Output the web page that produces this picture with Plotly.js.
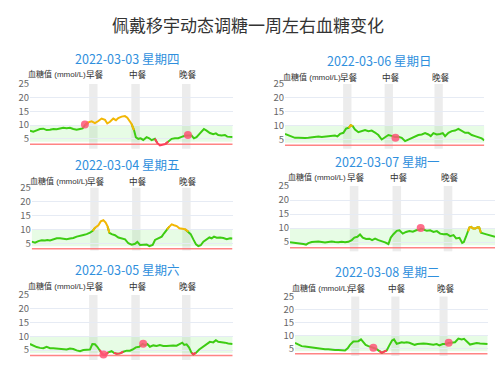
<!DOCTYPE html>
<html><head><meta charset="utf-8">
<script src="https://cdn.plot.ly/plotly-3.0.1.min.js"></script>
<style>html,body{margin:0;padding:0;background:#fff}#chart{width:500px;height:375px}</style>
</head><body><div id="chart"></div>
<script>
// ---------- text ----------
const mainTitle = '佩戴移宇动态调糖一周左右血糖变化';
const dayTitles = ['2022-03-03 星期四','2022-03-04 星期五','2022-03-05 星期六','2022-03-06 星期日','2022-03-07 星期一','2022-03-08 星期二'];
const yName = '血糖值 (mmol/L)';
const mealNames = ['早餐','中餐','晚餐'];
const mealStart = [7, 12, 18];
const mealEnd = [8, 13, 19];
const targetLow = 3.9, targetHigh = 10, hypoLine = 3.0;
const yTicks = [5, 10, 15, 20, 25];

// ---------- data (hour of day, mmol/L) ----------
const t0303 = [0,0.39,0.79,1.18,1.58,1.97,2.37,2.76,3.16,3.55,3.94,4.34,4.73,5.13,5.52,5.92,6.23,6.51,6.9,7.3,7.69,8.09,8.48,8.88,9.15,9.47,9.86,10.18,10.45,10.85,11.24,11.52,11.83,12.03,12.31,12.54,12.82,13.1,13.41,13.81,14.12,14.4,14.79,15.07,15.38,15.7,16.02,16.37,16.77,17.16,17.55,17.95,18.34,18.74,19.13,19.41,19.72,20.12,20.59,20.91,21.3,21.7,22.01,22.29,22.68,23.08,23.35,23.98];
const g0303 = [8.0,7.6,8.1,8.6,8.7,8.2,8.3,8.6,8.5,8.8,9.0,8.9,9.0,8.6,8.3,8.6,8.8,10.0,11.0,11.4,10.7,11.5,12.4,11.9,10.6,11.2,12.4,11.8,12.6,13.1,13.3,12.7,11.0,10.4,8.2,5.5,5.0,5.2,4.6,5.6,5.2,4.5,5.0,3.5,2.6,2.9,3.1,4.0,5.0,5.2,5.2,5.7,6.1,6.2,6.2,5.2,5.6,7.0,8.6,8.0,7.1,6.7,7.0,6.4,6.2,6.4,5.8,5.7];
const m0303t = [6.5, 18.7], m0303v = [10.2, 6.4];

const t0304 = [0,0.4,0.8,1.2,1.59,1.87,2.19,2.59,2.99,3.39,3.78,4.18,4.58,4.98,5.38,5.78,6.18,6.57,6.97,7.29,7.57,7.97,8.25,8.57,8.84,9.08,9.28,9.56,9.96,10.36,10.76,11.16,11.55,11.95,12.35,12.63,12.95,13.35,13.75,14.06,14.46,14.74,15.14,15.54,15.82,16.14,16.45,16.73,17.01,17.33,17.65,18.05,18.33,18.73,19.0,19.32,19.64,19.92,20.2,20.52,20.92,21.24,21.51,21.79,22.11,22.51,22.91,23.31,23.71,24.0];
const g0304 = [5.6,5.2,5.8,6.1,6.0,6.2,6.0,6.5,6.8,6.8,6.7,6.5,6.7,6.9,7.4,7.6,8.0,8.3,8.8,9.5,10.6,11.5,12.9,13.3,12.5,11.0,8.8,8.3,7.9,7.1,6.7,6.4,5.0,4.5,4.8,5.5,4.4,4.6,4.6,4.0,4.4,6.2,6.8,7.4,8.6,10.0,11.0,11.8,11.5,11.2,10.4,10.2,10.1,9.2,8.3,6.4,4.6,4.0,4.3,5.6,6.5,7.1,6.8,7.4,7.0,7.1,6.9,6.5,6.8,6.7];
const m0304t = [], m0304v = [];

const t0305 = [0,0.39,0.79,1.18,1.58,1.97,2.37,2.76,3.16,3.55,3.94,4.34,4.73,5.13,5.52,5.92,6.31,6.71,7.1,7.38,7.69,7.97,8.28,8.56,8.88,9.27,9.66,9.94,10.26,10.65,11.05,11.44,11.83,12.15,12.54,12.94,13.33,13.61,13.89,14.2,14.6,14.99,15.38,15.78,16.17,16.57,16.96,17.36,17.75,18.03,18.26,18.54,18.82,19.13,19.33,19.64,20.04,20.51,20.99,21.3,21.7,22.01,22.29,22.68,23.08,23.47,23.98];
const g0305 = [7.2,6.5,6.1,5.8,5.7,6.2,5.7,5.7,5.6,5.4,5.4,5.2,5.6,5.4,4.9,4.6,5.0,5.0,5.2,7.2,7.1,6.2,5.0,3.5,3.2,4.2,4.6,4.0,3.7,3.8,4.4,4.8,4.8,5.2,6.0,6.2,7.2,6.8,7.2,6.2,6.7,6.5,6.8,6.5,6.5,6.7,6.7,6.6,7.2,7.7,6.9,7.1,6.0,4.0,3.5,4.0,5.2,6.2,7.2,8.0,7.8,8.6,8.0,7.9,7.7,7.4,7.2];
const m0305t = [8.7, 13.4], m0305v = [3.4, 7.3];

const t0306 = [0,0.4,0.8,1.2,1.61,2.01,2.41,2.81,3.21,3.61,4.02,4.42,4.82,5.22,5.62,6.02,6.31,6.63,7.03,7.35,7.67,7.91,8.15,8.43,8.84,9.24,9.64,10.04,10.44,10.84,11.24,11.65,12.05,12.45,12.85,13.25,13.65,14.06,14.46,14.86,15.26,15.66,16.06,16.47,16.87,17.27,17.55,17.87,18.27,18.67,19.0,19.28,19.68,20.08,20.48,20.88,21.29,21.69,22.09,22.49,22.89,23.29,23.69,24.0];
const g0306 = [7.1,6.7,6.1,5.7,5.7,5.6,5.6,5.7,5.8,6.0,6.2,6.0,6.1,6.2,6.4,6.5,6.2,7.1,7.5,9.0,9.3,10.2,9.9,8.7,7.7,8.1,8.5,8.1,8.3,7.6,6.7,5.1,6.0,6.7,6.4,6.0,6.1,5.7,4.5,5.0,5.5,6.2,6.7,6.9,7.4,6.9,6.3,7.4,6.9,7.1,7.4,6.3,7.5,8.1,8.3,8.9,8.1,7.5,7.5,6.7,6.3,6.0,5.5,4.8];
const m0306t = [13.3], m0306v = [5.7];

const t0307 = [0,0.39,0.78,1.17,1.56,1.88,2.15,2.54,2.93,3.32,3.71,4.1,4.49,4.88,5.27,5.66,6.05,6.45,6.84,7.23,7.54,7.89,8.2,8.52,8.91,9.3,9.61,9.96,10.35,10.74,11.13,11.52,11.8,12.11,12.5,12.81,13.2,13.59,13.98,14.38,14.77,15.16,15.35,15.7,16.02,16.41,16.8,17.19,17.58,17.97,18.36,18.75,19.14,19.45,19.84,20.16,20.35,20.6,20.85,21.0,21.2,21.45,21.7,21.95,22.15,22.35,22.7,23.0,23.4,23.7,24.0];
const g0307 = [4.9,4.8,4.6,4.5,4.3,4.1,4.6,5.0,5.1,5.2,5.0,4.8,5.0,5.2,5.0,4.9,5.1,4.9,5.1,5.7,6.6,6.9,7.7,6.6,6.1,6.2,5.7,6.2,5.7,5.4,4.9,4.3,6.6,7.8,9.0,9.2,8.0,8.6,8.9,8.7,9.2,9.4,9.8,9.4,9.0,9.2,8.6,8.9,8.0,7.8,7.9,7.1,7.5,6.3,6.5,4.7,5.0,6.9,8.8,10.2,10.4,9.8,9.8,10.3,10.2,8.3,8.0,7.8,7.3,7.1,6.9];
const m0307t = [15.3], m0307v = [10.0];

const t0308 = [0,0.42,0.83,1.25,1.66,2.08,2.49,2.91,3.32,3.74,4.15,4.57,4.98,5.4,5.81,6.23,6.56,6.85,7.27,7.6,7.89,8.22,8.51,8.8,9.14,9.43,9.76,10.09,10.51,10.8,11.09,11.42,11.75,12.09,12.33,12.67,13.0,13.29,13.58,13.91,14.24,14.58,14.91,15.24,15.57,15.99,16.4,16.82,17.23,17.65,17.98,18.4,18.81,19.14,19.52,19.93,20.35,20.76,21.05,21.39,21.8,22.22,22.63,23.05,23.46,24.0];
const g0308 = [7.1,6.4,5.9,5.8,5.6,5.4,5.3,5.1,4.9,4.7,4.7,4.5,4.4,4.4,4.2,4.2,5.1,6.4,7.7,7.9,7.8,8.5,7.4,6.4,5.9,5.6,5.4,4.9,4.0,3.3,3.8,4.2,6.2,8.1,8.5,6.8,7.1,7.4,7.2,7.4,7.2,6.9,6.4,6.7,6.9,6.9,6.8,6.5,6.4,6.7,6.2,6.7,6.7,7.1,7.2,7.4,8.8,8.5,8.7,7.7,6.5,6.8,7.1,6.9,6.8,6.7];
const m0308t = [9.76, 19.14], m0308v = [5.3, 7.2];

// ---------- panel placement (pixels) ----------
const panels = [
  {title: dayTitles[0], t: t0303, v: g0303, mt: m0303t, mv: m0303v, px: [30, 232.7], py: [84, 148.7], ymin: 1.4, tpos: [127, 58], npos: [27.3, 74.3]},
  {title: dayTitles[1], t: t0304, v: g0304, mt: m0304t, mv: m0304v, px: [31.7, 232.5], py: [187.8, 250.5], ymin: 2.4, tpos: [127, 164], npos: [29.3, 180.7]},
  {title: dayTitles[2], t: t0305, v: g0305, mt: m0305t, mv: m0305v, px: [30, 232.7], py: [295, 360], ymin: 1.4, tpos: [127, 269], npos: [27.3, 285.7]},
  {title: dayTitles[3], t: t0306, v: g0306, mt: m0306t, mv: m0306v, px: [285, 484.3], py: [84, 148.7], ymin: 1.8, tpos: [379, 60], npos: [281.7, 76.7]},
  {title: dayTitles[4], t: t0307, v: g0307, mt: m0307t, mv: m0307v, px: [290, 495], py: [186, 251.3], ymin: 1.7, tpos: [386.5, 161], npos: [286.7, 176.7]},
  {title: dayTitles[5], t: t0308, v: g0308, mt: m0308t, mv: m0308v, px: [295, 487.7], py: [296.5, 356], ymin: 2.1, tpos: [386.7, 271], npos: [290.5, 287.7]}
];

const W = 500, H = 375;
const fx = p => p / W, fy = p => 1 - p / H;
const FONT = '"Noto Sans CJK SC", "Noto Sans", sans-serif';
const NAMEFONT = '"Liberation Sans", "Noto Sans CJK SC", sans-serif';
const COLORS = {g: '#3dcc12', o: '#f2b705', r: '#ff3d5a'};
function cls(v) { return v < targetLow ? 'r' : (v > targetHigh ? 'o' : 'g'); }
function segY(v, c) {
  const n = v.length;
  return v.map((y, i) => {
    const a = cls(y) === c, b = i > 0 && cls(v[i-1]) === c, d = i < n - 1 && cls(v[i+1]) === c;
    return (a || b || d) ? y : null;
  });
}

const traces = [], shapes = [], annotations = [];
const layout = {
  width: W, height: H, margin: {l: 0, r: 0, t: 0, b: 0},
  paper_bgcolor: '#fff', plot_bgcolor: 'rgba(0,0,0,0)', showlegend: false,
  font: {family: FONT, color: '#333'}
};

panels.forEach((p, i) => {
  const k = i + 1, sx = k === 1 ? '' : String(k);
  const xa = 'x' + sx, ya = 'y' + sx;
  layout['xaxis' + sx] = {domain: [fx(p.px[0]), fx(p.px[1])], range: [0, 24], visible: false, anchor: ya, fixedrange: true};
  layout['yaxis' + sx] = {
    domain: [fy(p.py[1]), fy(p.py[0])], range: [p.ymin, 25], anchor: xa,
    tickvals: yTicks, ticks: '', showline: false, zeroline: false,
    gridcolor: '#e6ebf4', gridwidth: 1,
    tickfont: {size: 9.5, color: '#666', family: FONT}, fixedrange: true
  };
  shapes.push({type: 'rect', xref: xa, yref: ya, x0: 0, x1: 24, y0: targetLow, y1: targetHigh,
    fillcolor: 'rgba(110,240,100,0.17)', line: {width: 0}, layer: 'below'});
  mealStart.forEach((s, j) => {
    shapes.push({type: 'rect', xref: xa, yref: ya + ' domain', x0: s, x1: mealEnd[j], y0: 0, y1: 1,
      fillcolor: 'rgba(205,205,205,0.38)', line: {width: 0}, layer: 'below'});
    annotations.push({xref: xa, yref: 'paper', x: (s + mealEnd[j]) / 2, y: fy(p.npos[1]), xshift: 2,
      text: mealNames[j], showarrow: false, xanchor: 'center', yanchor: 'middle', borderpad: 0,
      font: {size: 8.6, color: '#333', family: FONT}});
  });
  shapes.push({type: 'line', xref: xa, yref: ya, x0: 0, x1: 24, y0: hypoLine, y1: hypoLine,
    line: {color: 'rgba(255,110,110,0.85)', width: 1.5}, layer: 'below'});
  ['g', 'o', 'r'].forEach(c => {
    traces.push({type: 'scatter', mode: 'lines', x: p.t, y: segY(p.v, c), xaxis: xa, yaxis: ya,
      connectgaps: false, line: {color: COLORS[c], width: 2}, hoverinfo: 'skip'});
  });
  traces.push({type: 'scatter', mode: 'markers', x: p.mt, y: p.mv, xaxis: xa, yaxis: ya,
    marker: {size: 8, color: 'rgba(255,85,120,0.85)', line: {width: 0}}, hoverinfo: 'skip'});
  annotations.push({xref: 'paper', yref: 'paper', x: fx(p.tpos[0]), y: fy(p.tpos[1]), text: p.title,
    showarrow: false, xanchor: 'center', yanchor: 'middle', font: {size: 12.5, color: '#2f8fdd', family: FONT}});
  annotations.push({xref: 'paper', yref: 'paper', x: fx(p.npos[0]), y: fy(p.npos[1]), text: yName,
    showarrow: false, xanchor: 'left', yanchor: 'middle', borderpad: 0,
    font: {size: 8, color: '#333', family: NAMEFONT}});
});

annotations.push({xref: 'paper', yref: 'paper', x: fx(248), y: fy(25), text: mainTitle,
  showarrow: false, xanchor: 'center', yanchor: 'middle', font: {size: 17, color: '#333', family: FONT}});

layout.shapes = shapes;
layout.annotations = annotations;
Plotly.newPlot('chart', traces, layout, {staticPlot: true, displayModeBar: false});
</script>
</body></html>
